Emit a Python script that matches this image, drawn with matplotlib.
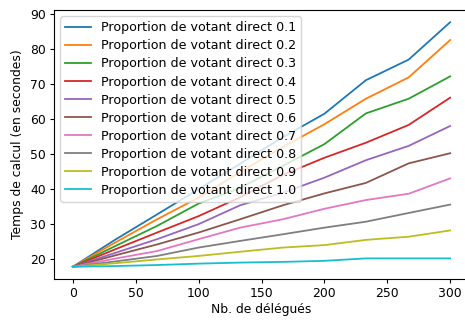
import matplotlib
matplotlib.use('Agg')
import matplotlib.pyplot as plt

# Nombre de délégués
delegues = [0, 33, 67, 100, 133, 167, 200, 233, 267, 300]

# Temps de calcul (secondes) pour chaque proportion de votants directs
proportions = ['0.1', '0.2', '0.3', '0.4', '0.5', '0.6', '0.7', '0.8', '0.9', '1.0']
temps_01 = [17.7, 25.3, 32.7, 39.9, 47.2, 54.8, 61.5, 71.1, 77.0, 87.7]
temps_02 = [17.7, 24.5, 31.3, 37.5, 44.8, 52.0, 58.5, 65.8, 71.9, 82.6]
temps_03 = [17.7, 23.5, 29.4, 35.8, 40.3, 46.6, 52.8, 61.6, 65.8, 72.2]
temps_04 = [17.7, 22.6, 27.5, 32.2, 37.6, 44.0, 48.9, 53.2, 58.3, 66.1]
temps_05 = [17.7, 21.6, 25.6, 29.9, 35.3, 38.9, 43.2, 48.2, 52.3, 58.0]
temps_06 = [17.7, 20.9, 24.1, 27.5, 31.3, 35.3, 38.7, 41.7, 47.3, 50.2]
temps_07 = [17.7, 20.0, 22.2, 25.6, 28.9, 31.3, 34.3, 36.8, 38.6, 43.0]
temps_08 = [17.7, 19.2, 20.8, 23.2, 25.1, 27.0, 28.9, 30.6, 33.1, 35.5]
temps_09 = [17.7, 18.7, 19.8, 20.8, 22.0, 23.2, 23.9, 25.4, 26.3, 28.1]
temps_10 = [17.7, 17.9, 18.2, 18.6, 18.9, 19.1, 19.4, 20.1, 20.1, 20.1]

series = [temps_01, temps_02, temps_03, temps_04, temps_05,
          temps_06, temps_07, temps_08, temps_09, temps_10]

plt.rcParams['font.size'] = 8.9
plt.rcParams['xtick.major.size'] = 3
plt.rcParams['ytick.major.size'] = 3
plt.rcParams['xtick.major.pad'] = 3
plt.rcParams['ytick.major.pad'] = 3

fig = plt.figure(figsize=(4.65, 3.2), dpi=100)
ax = fig.add_axes([54 / 465, 41 / 320, 415 / 465, 269 / 320])

for p, t in zip(proportions, series):
    ax.plot(delegues, t, linewidth=1.3, label='Proportion de votant direct ' + p)

ax.set_xlabel('Nb. de délégués', labelpad=2)
ax.set_ylabel('Temps de calcul (en secondes)')
ax.legend(loc='upper left', fontsize=9.1, labelspacing=0.4)

fig.savefig('out.png', dpi=100)
